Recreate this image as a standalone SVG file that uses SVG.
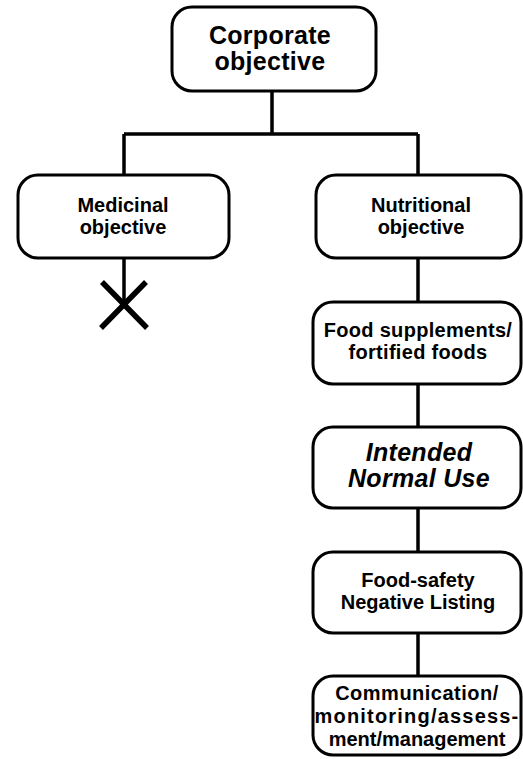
<svg xmlns="http://www.w3.org/2000/svg" width="523" height="759" viewBox="0 0 523 759">
<style>
.box{fill:#fff;stroke:#000;stroke-width:3}
.t{font-family:"Liberation Sans",Arial,Helvetica,sans-serif;font-weight:bold;text-anchor:middle;fill:#000}
.s{font-size:20px}
.l{font-size:25px;letter-spacing:0.3px}
.i{font-style:italic}
.c{stroke:#000;stroke-width:3.5;fill:none}
.x{stroke:#000;stroke-width:5.5;fill:none}
</style>
<rect width="523" height="759" fill="#fff"/>
<g id="connectors">
<path class="c" d="M272 91V134M124 134H418M124 134V175M418 134V175"/>
<path class="c" d="M124 258V304"/>
<path class="x" d="M102 282L147 328M146 282L101 328"/>
<path class="c" d="M418 258V302M418 384V427M418 508V552M418 633V676"/>
</g>
<g id="corporate">
<rect class="box" x="172" y="7" width="204" height="84" rx="20"/>
<text class="t l" x="270" y="44">Corporate</text>
<text class="t l" x="270" y="70">objective</text>
</g>
<g id="medicinal">
<rect class="box" x="18" y="175" width="211" height="83" rx="20"/>
<text class="t s" x="123" y="212">Medicinal</text>
<text class="t s" x="123" y="234">objective</text>
</g>
<g id="nutritional">
<rect class="box" x="316" y="175" width="205" height="83" rx="20"/>
<text class="t s" x="421" y="212">Nutritional</text>
<text class="t s" x="421" y="234">objective</text>
</g>
<g id="food-supplements">
<rect class="box" x="313" y="302" width="208" height="82" rx="20"/>
<text class="t s" x="418" y="337" letter-spacing="0.3">Food supplements/</text>
<text class="t s" x="418" y="359" letter-spacing="0.3">fortified foods</text>
</g>
<g id="intended-normal-use">
<rect class="box" x="313" y="427" width="208" height="81" rx="20"/>
<text class="t l i" x="419" y="461">Intended</text>
<text class="t l i" x="419" y="487">Normal Use</text>
</g>
<g id="food-safety">
<rect class="box" x="313" y="552" width="208" height="81" rx="20"/>
<text class="t s" x="418" y="587">Food-safety</text>
<text class="t s" x="418" y="609">Negative Listing</text>
</g>
<g id="communication">
<rect class="box" x="313" y="676" width="208" height="79" rx="20"/>
<text class="t s" x="417" y="700" letter-spacing="0.5">Communication/</text>
<text class="t s" x="417" y="723" letter-spacing="1.2">monitoring/assess-</text>
<text class="t s" x="417" y="746">ment/management</text>
</g>
</svg>
